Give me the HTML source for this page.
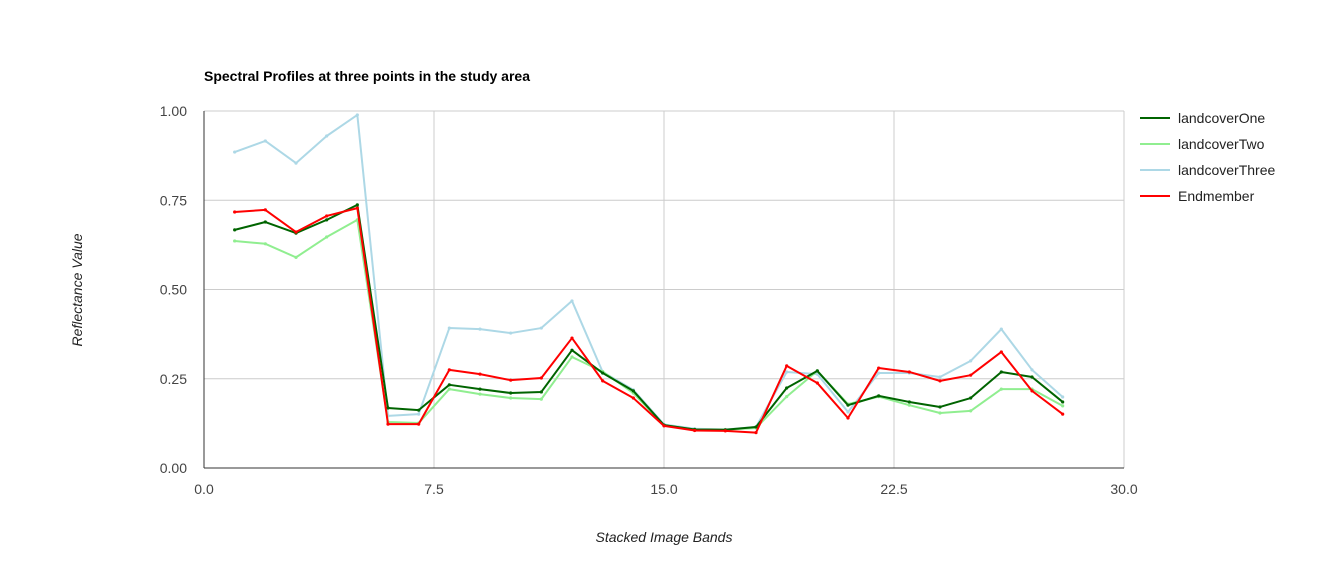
<!DOCTYPE html>
<html><head><meta charset="utf-8"><style>
body{margin:0;background:#fff;font-family:"Liberation Sans",Arial,sans-serif}
svg text{font-family:"Liberation Sans",Arial,sans-serif}
</style></head><body>
<svg id="chart" width="1326" height="579" xmlns="http://www.w3.org/2000/svg">
<text x="204" y="81" font-size="14" font-weight="bold" fill="#000">Spectral Profiles at three points in the study area</text>
<g id="grid"></g>
<g id="axes"></g>
<g id="series"></g>
<g id="legend"></g>
<text transform="translate(82,290) rotate(-90)" text-anchor="middle" font-size="14" font-style="italic" fill="#222">Reflectance Value</text>
<text x="664" y="542" text-anchor="middle" font-size="14" font-style="italic" fill="#222">Stacked Image Bands</text>
</svg>
<script>
const bands=[1,2,3,4,5,6,7,8,9,10,11,12,13,14,15,16,17,18,19,20,21,22,23,24,25,26,27,28];
const landcoverOne=[0.667,0.689,0.658,0.695,0.737,0.168,0.162,0.233,0.221,0.21,0.213,0.33,0.266,0.216,0.12,0.108,0.107,0.115,0.224,0.272,0.176,0.202,0.185,0.171,0.196,0.269,0.255,0.185];
const landcoverTwo=[0.636,0.628,0.59,0.647,0.695,0.129,0.126,0.221,0.207,0.196,0.193,0.311,0.27,0.21,0.12,0.108,0.107,0.112,0.2,0.272,0.179,0.2,0.176,0.154,0.16,0.221,0.221,0.174];
const landcoverThree=[0.885,0.916,0.854,0.93,0.989,0.146,0.151,0.392,0.389,0.378,0.392,0.468,0.269,0.219,0.122,0.11,0.108,0.115,0.269,0.263,0.157,0.266,0.266,0.255,0.3,0.389,0.275,0.199];
const endmember=[0.717,0.723,0.661,0.706,0.728,0.123,0.123,0.275,0.263,0.246,0.252,0.364,0.244,0.196,0.118,0.105,0.104,0.099,0.286,0.238,0.14,0.28,0.269,0.244,0.26,0.325,0.216,0.151];
const seriesNames=["landcoverOne","landcoverTwo","landcoverThree","Endmember"];
const seriesColors=["#006400","#90ee90","#add8e6","#ff0000"];
const xTicks=[0,7.5,15,22.5,30];
const xTickLabels=["0.0","7.5","15.0","22.5","30.0"];
const yTicks=[0,0.25,0.5,0.75,1];
const yTickLabels=["0.00","0.25","0.50","0.75","1.00"];

const NS="http://www.w3.org/2000/svg";
const X0=204,X1=1124,Y0=468,Y1=111;
const xs=v=>X0+(v-0)/30*(X1-X0);
const ys=v=>Y0-(v-0)/1*(Y0-Y1);
function mk(tag,attrs,parent){const e=document.createElementNS(NS,tag);for(const k in attrs)e.setAttribute(k,attrs[k]);parent.appendChild(e);return e;}
const grid=document.getElementById('grid'),axes=document.getElementById('axes'),ser=document.getElementById('series'),leg=document.getElementById('legend');
xTicks.forEach((t,i)=>{
 if(i>0){const l=mk('line',{x1:xs(t),x2:xs(t),y1:Y1,y2:Y0,stroke:'#cccccc','stroke-width':1},grid);
 
 }
 const tx=mk('text',{x:xs(t),y:Y0+26,'text-anchor':'middle','font-size':14,fill:'#444'},axes);
 tx.textContent=xTickLabels[i];
 
 
});
yTicks.forEach((t,i)=>{
 if(i>0){const l=mk('line',{x1:X0,x2:X1,y1:ys(t),y2:ys(t),stroke:'#cccccc','stroke-width':1},grid);
 
 }
 const tx=mk('text',{x:X0-17,y:ys(t)+5,'text-anchor':'end','font-size':14,fill:'#444'},axes);
 tx.textContent=yTickLabels[i];
 
 
});
const ya=mk('line',{x1:X0,x2:X0,y1:Y1,y2:Y0,stroke:'#333','stroke-width':1},axes);


const xa=mk('line',{x1:X0,x2:X1,y1:Y0,y2:Y0,stroke:'#333','stroke-width':1},axes);


const data=[landcoverOne,landcoverTwo,landcoverThree,endmember];
[2,1,0,3].forEach(si=>{
 const vals=data[si];
 const p=mk('polyline',{points:bands.map((b,i)=>xs(b)+','+ys(vals[i])).join(' '),fill:'none',stroke:seriesColors[si],'stroke-width':2,'stroke-linejoin':'round'},ser);
 
 
 vals.forEach((v,i)=>{const c=mk('circle',{cx:xs(bands[i]),cy:ys(v),r:1.6,fill:seriesColors[si]},ser);
 
 });
});
seriesNames.forEach((n,i)=>{
 const y=118+i*26;
 const l=mk('line',{x1:1140,x2:1170,y1:y,y2:y,stroke:seriesColors[i],'stroke-width':2},leg);
 
 
 const t=mk('text',{x:1178,y:y+5,'font-size':14,fill:'#222'},leg);
 t.textContent=n;
 
 
});
</script>
</body></html>
